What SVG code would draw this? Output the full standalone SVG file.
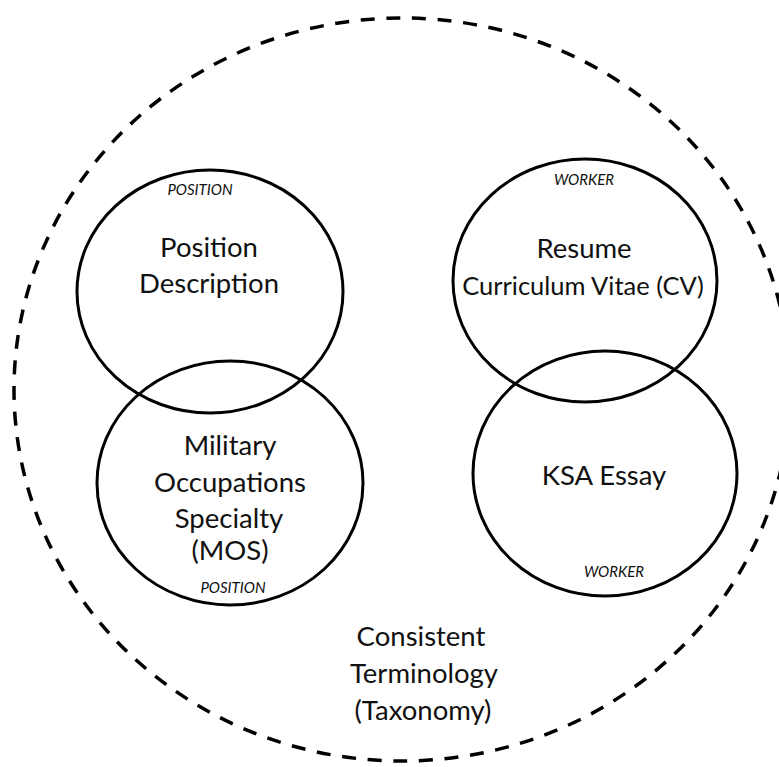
<svg xmlns="http://www.w3.org/2000/svg" width="779" height="767" viewBox="0 0 779 767">
<style>
.bg{fill:#ffffff}
.outer{fill:none;stroke:#000;stroke-width:3.5;stroke-dasharray:14 11.7}
.c{fill:none;stroke:#000;stroke-width:3}
.t{font-family:Lato,"Liberation Sans",sans-serif;fill:#111;text-anchor:middle;font-size:27.5px}
.s{font-family:Lato,"Liberation Sans",sans-serif;fill:#111;text-anchor:middle;font-size:15px;font-style:italic}
</style>
<rect class="bg" x="0" y="0" width="779" height="767"/>
<g id="taxonomy">
<ellipse class="outer" cx="402" cy="389.5" rx="388" ry="371.5"/>
<text class="t" x="421" y="646">Consistent</text>
<text class="t" x="424" y="683">Terminology</text>
<text class="t" x="423" y="720">(Taxonomy)</text>
</g>
<g id="position-description">
<ellipse class="c" cx="210" cy="291.5" rx="133" ry="121.5"/>
<text class="s" x="200" y="195">POSITION</text>
<text class="t" x="209" y="257">Position</text>
<text class="t" x="209" y="293">Description</text>
</g>
<g id="mos">
<ellipse class="c" cx="230" cy="483" rx="133" ry="122"/>
<text class="t" x="230" y="455">Military</text>
<text class="t" x="230" y="492">Occupations</text>
<text class="t" x="229" y="528">Specialty</text>
<text class="t" x="230" y="560">(MOS)</text>
<text class="s" x="233" y="593">POSITION</text>
</g>
<g id="resume">
<ellipse class="c" cx="585" cy="280.5" rx="132" ry="121.5"/>
<text class="s" x="584" y="185">WORKER</text>
<text class="t" x="584" y="258">Resume</text>
<text class="t" x="583" y="295" style="font-size:25.5px">Curriculum Vitae (CV)</text>
</g>
<g id="ksa-essay">
<ellipse class="c" cx="605" cy="473.5" rx="132" ry="122.5"/>
<text class="t" x="604" y="485">KSA Essay</text>
<text class="s" x="614" y="577">WORKER</text>
</g>
<g id="connectors"></g>
</svg>
